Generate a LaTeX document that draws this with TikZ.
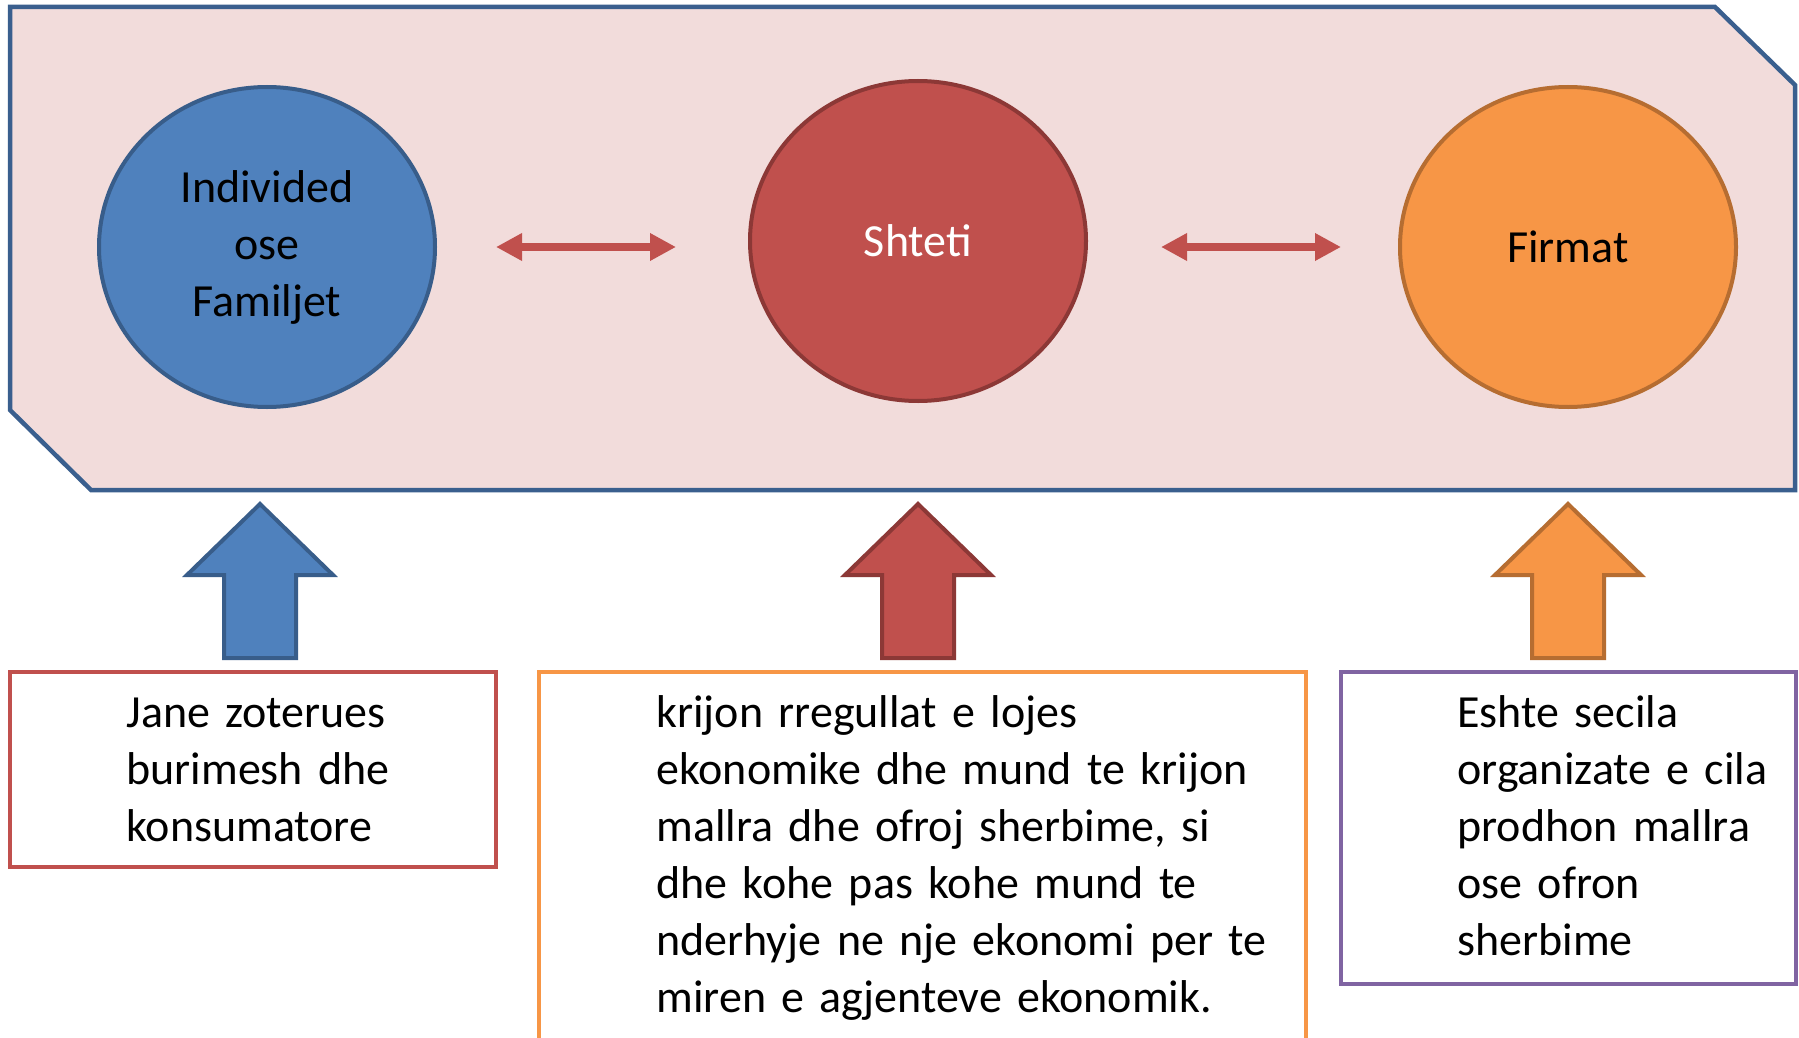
\documentclass[tikz,border=0pt]{standalone}
\usepackage{fontspec}
\setmainfont{Carlito}
\usetikzlibrary{arrows.meta,shapes.geometric}
\definecolor{pinkbg}{HTML}{F2DCDB}
\definecolor{navy}{HTML}{3A5F8E}
\definecolor{oblue}{HTML}{4F81BD}
\definecolor{oblued}{HTML}{385D8A}
\definecolor{ored}{HTML}{C0504D}
\definecolor{oredd}{HTML}{8C3836}
\definecolor{oorange}{HTML}{F79646}
\definecolor{oorangd}{HTML}{B66D31}
\definecolor{opurple}{HTML}{8064A2}
\newcommand\blockup[4]{%
  \coordinate (#1) at (#2,504);
  \draw[upar, fill=#3, draw=#4] (#1) -- ++(73,71) -- ++(-37,0) -- ++(0,83) -- ++(-72,0) -- ++(0,-83) -- ++(-37,0) -- cycle;}
\begin{document}
\begin{tikzpicture}[x=0.5pt,y=-0.5pt,
  circ/.style={ellipse, minimum width=168pt, minimum height=160pt, line width=2pt, inner sep=0pt, align=center, font=\fontsize{23}{28.5}\selectfont},
  dblarr/.style={draw=ored, line width=4pt, {Triangle[length=13pt,width=13pt]}-{Triangle[length=13pt,width=13pt]}},
  upar/.style={line width=2pt, line join=miter},
  txtbox/.style={draw, line width=2pt, inner sep=0pt, fill=white},
  boxtext/.style={anchor=base west, inner sep=0pt, align=left, text width=320pt, font=\fontsize{23}{28.5}\selectfont}
]
\clip (0,0) rectangle (1799,1038);
\fill[white] (0,0) rectangle (1799,1038);
% main panel
\draw[line width=2.25pt, draw=navy, fill=pinkbg, line join=miter]
  (10,7) -- (1715,7) -- (1795,85) -- (1795,490) -- (91,490) -- (10,410) -- cycle;
% circles
\node[circ, fill=oblue, draw=oblued] (ind) at (267,247) {Individed\\ose\\Familjet};
\node[circ, fill=ored, draw=oredd, text=white] (sht) at (918,241) {Shteti};
\node[circ, fill=oorange, draw=oorangd] (fir) at (1568,247) {Firmat};
% double arrows
\coordinate (l1) at (496,247);
\coordinate (l2) at (676,247);
\coordinate (r1) at (1161,247);
\coordinate (r2) at (1341,247);
\draw[dblarr] (l1) -- (l2);
\draw[dblarr] (r1) -- (r2);
% up arrows
\blockup{ua}{260}{oblue}{oblued}
\blockup{ub}{918}{ored}{oredd}
\blockup{uc}{1568}{oorange}{oorangd}
% boxes
\node[txtbox, draw=ored, minimum width=243pt, minimum height=97.5pt] (b1) at (253,769.5) {};
\node[txtbox, draw=oorange, minimum width=383.5pt, minimum height=189pt] (b2) at (922.5,861) {};
\node[txtbox, draw=opurple, minimum width=227.5pt, minimum height=156pt] (b3) at (1568.5,828) {};
\node[boxtext] (t1) at (126,727) {Jane zoterues\\burimesh dhe\\konsumatore};
\node[boxtext] (t2) at (656,727) {krijon rregullat e lojes\\ekonomike dhe mund te krijon\\mallra dhe ofroj sherbime, si\\dhe kohe pas kohe mund te\\nderhyje ne nje ekonomi per te\\miren e agjenteve ekonomik.};
\node[boxtext] (t3) at (1457,727) {Eshte secila\\organizate e cila\\prodhon mallra\\ose ofron\\sherbime};
\end{tikzpicture}
\end{document}
